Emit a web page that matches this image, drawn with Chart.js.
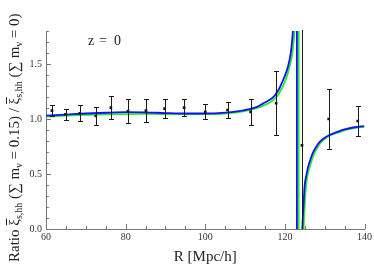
<!DOCTYPE html>
<html>
<head>
<meta charset="utf-8">
<script src="https://cdn.jsdelivr.net/npm/chart.js@4.4.1/dist/chart.umd.min.js"></script>
<style>
  html, body { margin: 0; padding: 0; background: #fff; }
  #box { width: 374px; height: 266px; }
</style>
</head>
<body>
<div id="box"><canvas id="ratioChart"></canvas></div>
<script>
// measured points (R, ratio, 1-sigma error)
var pointR = [61.5, 64.9, 68.5, 72.5, 76.3, 80.6, 85.1, 89.8, 94.7, 100.0, 105.6, 111.4, 117.8, 124.3, 131.0, 138.3];
var pointRatio = [1.076, 1.043, 1.052, 1.027, 1.103, 1.073, 1.076, 1.094, 1.103, 1.064, 1.082, 1.064, 1.143, 0.76, 1.0, 0.982];
var pointErr = [0.047, 0.052, 0.071, 0.08, 0.102, 0.108, 0.107, 0.084, 0.079, 0.068, 0.076, 0.116, 0.29, 1.5, 0.272, 0.139];

// model curves (the pole goes far outside the range)
var blueR = [60, 65, 70, 75, 80, 85, 90, 95, 100, 105, 108, 111, 113, 114.5, 116, 117.4, 118.5, 119.5, 120.2, 120.8, 121.3, 121.6, 122.0, 122.4, 122.8, 123.0,
             123.05, 123.3, 123.7, 124.0, 124.38, 124.7, 124.95, 125.4, 125.8, 126.4, 127, 128, 128.7, 130, 131.2, 133, 135, 137.5, 140];
var blueRatio = [1.03, 1.04, 1.05, 1.057, 1.062, 1.06, 1.054, 1.05, 1.05, 1.058, 1.07, 1.09, 1.11, 1.14, 1.17, 1.21, 1.27, 1.35, 1.41, 1.48, 1.56, 1.635, 1.79, 2.05, 2.8, 9,
                 -9, -3, -1.0, -0.45, 0.0, 0.23, 0.385, 0.49, 0.56, 0.63, 0.69, 0.755, 0.79, 0.83, 0.855, 0.88, 0.905, 0.925, 0.935];
var greenR = [60, 65, 70, 75, 80, 85, 90, 95, 100, 105, 108, 111, 113, 114.5, 116, 117.4, 118.5, 119.9, 120.6, 121.2, 121.7, 122.0, 122.4, 122.8, 123.2, 123.45,
              123.5, 123.75, 124.15, 124.4, 124.7, 125.0, 125.3, 125.7, 126.2, 126.8, 127.4, 128.4, 129.1, 130.4, 131.6, 133.3, 135.3, 137.7, 140];
var greenRatio = [1.022, 1.03, 1.037, 1.043, 1.045, 1.046, 1.045, 1.043, 1.044, 1.05, 1.06, 1.08, 1.1, 1.12, 1.145, 1.18, 1.23, 1.33, 1.4, 1.48, 1.56, 1.635, 1.79, 2.05, 2.8, 9,
                  -9, -3, -1.0, -0.45, 0.0, 0.23, 0.385, 0.49, 0.56, 0.63, 0.69, 0.755, 0.79, 0.83, 0.855, 0.875, 0.9, 0.92, 0.93];

var xTicks = [60, 80, 100, 120, 140];
var yTicks = [0.0, 0.5, 1.0, 1.5];

var serif = "'Liberation Serif', 'Times New Roman', serif";

function toXY(xs, ys) {
    var out = [];
    for (var i = 0; i < xs.length; i++) out.push({ x: xs[i], y: ys[i] });
    return out;
}

// error bars drawn on top of the datasets, clipped to the plot area
var errorBars = {
    id: "errorBars",
    afterDatasetsDraw: function (chart) {
        var ctx = chart.ctx, xs = chart.scales.x, ys = chart.scales.y, a = chart.chartArea;
        ctx.save();
        ctx.beginPath();
        ctx.rect(a.left, a.top - 1, a.right - a.left, a.bottom - a.top + 1);
        ctx.clip();
        ctx.strokeStyle = "#1a1a1a";
        ctx.lineWidth = 1;
        for (var i = 0; i < pointR.length; i++) {
            var px = Math.round(xs.getPixelForValue(pointR[i])) + 0.5;
            var top = Math.round(ys.getPixelForValue(pointRatio[i] + pointErr[i])) + 0.5;
            var bot = Math.round(ys.getPixelForValue(pointRatio[i] - pointErr[i])) + 0.5;
            ctx.beginPath();
            ctx.moveTo(px, top); ctx.lineTo(px, bot);
            ctx.moveTo(px - 2.5, top); ctx.lineTo(px + 2.5, top);
            ctx.moveTo(px - 2.5, bot); ctx.lineTo(px + 2.5, bot);
            ctx.stroke();
        }
        ctx.restore();
    }
};

// inward ticks (major + minor) and the texts
var decor = {
    id: "decor",
    afterDraw: function (chart) {
        var ctx = chart.ctx, xs = chart.scales.x, ys = chart.scales.y, a = chart.chartArea;
        ctx.save();
        ctx.strokeStyle = "#777";
        ctx.lineWidth = 1;
        ctx.beginPath();
        for (var v = 60; v <= 140; v += 5) {
            var px = Math.round(xs.getPixelForValue(v)) + 0.5;
            var len = (v % 20 === 0) ? 5 : 3;
            ctx.moveTo(px, a.bottom); ctx.lineTo(px, a.bottom - len);
        }
        for (var k = 0; k <= 18; k++) {
            var py = Math.round(ys.getPixelForValue(k / 10)) + 0.5;
            var l = (k % 5 === 0) ? 5 : 3;
            ctx.moveTo(a.left, py); ctx.lineTo(a.left + l, py);
        }
        ctx.stroke();

        ctx.fillStyle = "#222";
        ctx.textBaseline = "alphabetic";
        ctx.font = "15px " + serif;
        ctx.textAlign = "center";
        ctx.fillText("R [Mpc/h]", (a.left + a.right) / 2, 261);

        ctx.textAlign = "left";
        ctx.font = "14px " + serif;
        ctx.fillText("z", 88, 45);
        ctx.fillText("=", 99, 45);
        ctx.fillText("0", 114, 45);

        // rotated y title with subscripts and overlines
        var runs = [
            ["Ratio ", 15, 0, false], ["\u03BE", 15, 0, true], ["s,hh", 10, 3, false],
            [" (\u2211 m", 15, 0, false], ["\u03BD", 10, 3, false], [" = 0.15) / ", 15, 0, false],
            ["\u03BE", 15, 0, true], ["s,hh", 10, 3, false],
            [" (\u2211 m", 15, 0, false], ["\u03BD", 10, 3, false], [" = 0)", 15, 0, false]
        ];
        ctx.translate(19, 262);
        ctx.rotate(-Math.PI / 2);
        var x = 0;
        for (var r = 0; r < runs.length; r++) {
            ctx.font = runs[r][1] + "px " + serif;
            ctx.fillText(runs[r][0], x, runs[r][2]);
            var w = ctx.measureText(runs[r][0]).width;
            if (runs[r][3]) {
                ctx.fillRect(x + 0.5, -13, w, 1);
            }
            x += w;
        }
        ctx.restore();
    }
};

var chartCanvas = document.getElementById("ratioChart").getContext("2d");
var ratioChart = new Chart(chartCanvas, {
    type: "scatter",
    data: {
        datasets: [
            {
                label: "points",
                data: toXY(pointR, pointRatio),
                pointStyle: "rect",
                pointRadius: 1.9,
                backgroundColor: "#111",
                borderColor: "#111",
                borderWidth: 0
            },
            {
                label: "blue",
                type: "line",
                data: toXY(blueR, blueRatio),
                borderColor: "#1010ff",
                borderWidth: 1.8,
                pointRadius: 0,
                cubicInterpolationMode: "monotone",
                fill: false
            },
            {
                label: "green",
                type: "line",
                data: toXY(greenR, greenRatio),
                borderColor: "#22ee22",
                borderWidth: 1.8,
                pointRadius: 0,
                cubicInterpolationMode: "monotone",
                fill: false
            }
        ]
    },
    options: {
        responsive: true,
        maintainAspectRatio: false,
        animation: false,
        layout: { padding: { top: 31, right: 9, left: 0, bottom: 0 } },
        plugins: { legend: { display: false }, tooltip: { enabled: false } },
        scales: {
            x: {
                type: "linear",
                min: 60,
                max: 140,
                afterFit: function (s) { s.height = 37; },
                afterBuildTicks: function (s) { s.ticks = xTicks.map(function (v) { return { value: v }; }); },
                grid: { display: false, drawTicks: false },
                border: { display: true, color: "#777", width: 1 },
                ticks: { padding: 2, maxRotation: 0, autoSkip: false, color: "#333", font: { family: serif, size: 10 } }
            },
            y: {
                type: "linear",
                min: 0,
                max: 1.8,
                afterFit: function (s) { s.width = 46; },
                afterBuildTicks: function (s) { s.ticks = yTicks.map(function (v) { return { value: v }; }); },
                grid: { display: false, drawTicks: false },
                border: { display: true, color: "#777", width: 1 },
                ticks: {
                    padding: 4,
                    color: "#333",
                    font: { family: serif, size: 10 },
                    callback: function (v) { return Number(v).toFixed(1); }
                }
            }
        }
    },
    plugins: [errorBars, decor]
});
</script>
</body>
</html>
